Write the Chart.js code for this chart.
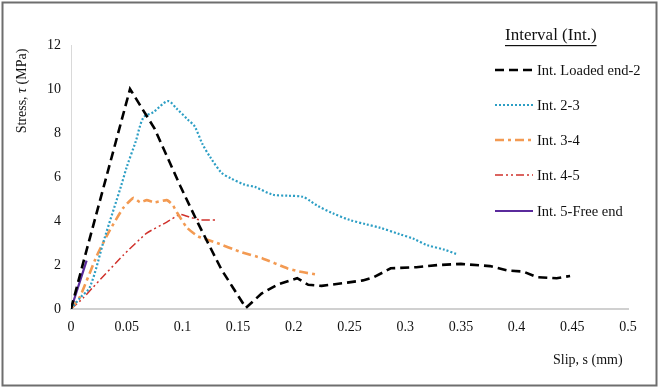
<!DOCTYPE html>
<html>
<head>
<meta charset="utf-8">
<script src="https://cdn.jsdelivr.net/npm/chart.js@4/dist/chart.umd.min.js"></script>
<style>
  html, body { margin: 0; padding: 0; background: #fff; }
  #wrap { width: 660px; height: 388px; }
</style>
</head>
<body>
<div id="wrap"><canvas id="c" width="660" height="388"></canvas></div>
<script>
// ---- data: slip (mm) / stress (MPa) ----
const seriesNames = ["Int. Loaded end-2", "Int. 2-3", "Int. 3-4", "Int. 4-5", "Int. 5-Free end"];

const loadedX = [0, 0.012, 0.053, 0.075, 0.098, 0.114, 0.135, 0.145, 0.157, 0.171, 0.185, 0.203, 0.213, 0.225, 0.248, 0.262, 0.272, 0.287, 0.31, 0.33, 0.35, 0.376, 0.392, 0.406, 0.418, 0.436, 0.448];
const loadedY = [0, 2.3, 10.0, 8.2, 5.6, 3.9, 1.8, 1.0, 0.05, 0.7, 1.1, 1.4, 1.1, 1.05, 1.2, 1.3, 1.45, 1.85, 1.9, 2.0, 2.05, 1.95, 1.75, 1.7, 1.45, 1.4, 1.5];

const int23X = [0, 0.008, 0.017, 0.03, 0.045, 0.05, 0.058, 0.065, 0.074, 0.087, 0.095, 0.105, 0.111, 0.118, 0.125, 0.135, 0.143, 0.156, 0.165, 0.181, 0.195, 0.208, 0.215, 0.221, 0.235, 0.25, 0.265, 0.277, 0.295, 0.307, 0.32, 0.335, 0.346];
const int23Y = [0, 0.5, 1.0, 3.2, 5.6, 6.45, 7.6, 8.7, 8.95, 9.45, 9.1, 8.6, 8.3, 7.5, 6.9, 6.2, 5.95, 5.65, 5.55, 5.2, 5.15, 5.1, 4.9, 4.7, 4.35, 4.05, 3.85, 3.7, 3.4, 3.2, 2.9, 2.7, 2.5];

const int34X = [0, 0.008, 0.023, 0.035, 0.047, 0.056, 0.062, 0.068, 0.075, 0.086, 0.091, 0.095, 0.104, 0.114, 0.131, 0.152, 0.172, 0.194, 0.205, 0.222];
const int34Y = [0, 0.55, 2.4, 3.6, 4.6, 5.05, 4.85, 4.95, 4.85, 4.95, 4.75, 4.4, 3.7, 3.3, 3.0, 2.6, 2.3, 1.85, 1.7, 1.55];

const int45X = [0, 0.011, 0.02, 0.047, 0.068, 0.086, 0.098, 0.108, 0.116, 0.13];
const int45Y = [0, 0.5, 1.0, 2.45, 3.45, 3.95, 4.3, 4.15, 4.05, 4.05];

const int5fX = [0, 0.007, 0.014];
const int5fY = [0, 1.1, 2.2];

const xTicks = [0, 0.05, 0.1, 0.15, 0.2, 0.25, 0.3, 0.35, 0.4, 0.45, 0.5];
const yTicks = [0, 2, 4, 6, 8, 10, 12];

// ---- styles ----
const serif = "'Liberation Serif', 'Times New Roman', serif";
const styles = [
  { color: "#000000", width: 2.6, dash: [9, 5], tension: 0 },
  { color: "#2c9ec4", width: 2.2, dash: [2, 2], tension: 0.3 },
  { color: "#f39a52", width: 2.6, dash: [9, 4, 3, 4], tension: 0.15 },
  { color: "#d0322c", width: 1.5, dash: [8, 3, 2, 3, 2, 3], tension: 0.15 },
  { color: "#5a2a9c", width: 2.2, dash: [], tension: 0 }
];

function pts(xs, ys) { return xs.map((x, i) => ({ x: x, y: ys[i] })); }
const allData = [
  pts(loadedX, loadedY), pts(int23X, int23Y), pts(int34X, int34Y),
  pts(int45X, int45Y), pts(int5fX, int5fY)
];

const datasets = allData.map((d, i) => ({
  label: seriesNames[i],
  data: d,
  showLine: true,
  borderColor: styles[i].color,
  borderWidth: styles[i].width,
  borderDash: styles[i].dash,
  tension: styles[i].tension,
  pointRadius: 0,
  fill: false
}));

// frame, axis titles and legend drawn on the canvas
const decor = {
  id: "decor",
  afterDraw(chart) {
    const ctx = chart.ctx;
    ctx.save();
    // outer frame
    ctx.strokeStyle = "#6e6e6e";
    ctx.lineWidth = 2;
    ctx.strokeRect(2.5, 2.5, 654, 383);

    ctx.fillStyle = "#111";
    // y title (rotated, τ italic)
    ctx.translate(22, 91);
    ctx.rotate(-Math.PI / 2);
    const parts = [["Stress, ", ""], ["τ", "italic "], [" (MPa)", ""]];
    let total = 0;
    parts.forEach(p => { ctx.font = p[1] + "14px " + serif; total += ctx.measureText(p[0]).width; });
    let x = -total / 2;
    ctx.textBaseline = "middle";
    ctx.textAlign = "left";
    parts.forEach(p => { ctx.font = p[1] + "14px " + serif; ctx.fillText(p[0], x, 0); x += ctx.measureText(p[0]).width; });
    ctx.setTransform(1, 0, 0, 1, 0, 0);

    // x title
    ctx.font = "14px " + serif;
    ctx.textAlign = "left";
    ctx.fillText("Slip, s (mm)", 553, 360);

    // legend title underlined
    ctx.font = "17px " + serif;
    const title = "Interval (Int.)";
    const tw = ctx.measureText(title).width;
    ctx.fillText(title, 505, 36);
    ctx.fillRect(505, 45, tw, 1.2);

    // legend items
    const rowY = [70, 105, 140, 175, 211];
    ctx.font = "14.5px " + serif;
    styles.forEach((s, i) => {
      ctx.beginPath();
      ctx.strokeStyle = s.color;
      ctx.lineWidth = s.width;
      ctx.setLineDash(s.dash);
      ctx.moveTo(495, rowY[i]);
      ctx.lineTo(533, rowY[i]);
      ctx.stroke();
      ctx.setLineDash([]);
      ctx.fillStyle = "#111";
      ctx.fillText(seriesNames[i], 537, rowY[i] + 1);
    });
    ctx.restore();
  }
};

new Chart(document.getElementById("c"), {
  type: "scatter",
  data: { datasets: datasets },
  options: {
    responsive: false,
    animation: false,
    events: [],
    layout: { padding: { left: 0, top: 45, right: 32, bottom: 0 } },
    plugins: { legend: { display: false }, tooltip: { enabled: false } },
    scales: {
      x: {
        type: "linear", min: 0, max: 0.5,
        afterBuildTicks: s => { s.ticks = xTicks.map(v => ({ value: v })); },
        afterFit: s => { s.height = 79; },
        grid: { display: false, drawTicks: false },
        border: { display: true, color: "#d0d0d0", width: 2 },
        ticks: { color: "#111", padding: 10, maxRotation: 0, font: { family: serif, size: 14 },
                 callback: v => String(v) }
      },
      y: {
        type: "linear", min: 0, max: 12,
        afterBuildTicks: s => { s.ticks = yTicks.map(v => ({ value: v })); },
        afterFit: s => { s.width = 71; },
        grid: { display: false, drawTicks: false },
        border: { display: true, color: "#d9d9d9", width: 1 },
        ticks: { color: "#111", padding: 10, font: { family: serif, size: 14 } }
      }
    }
  },
  plugins: [decor]
});
</script>
</body>
</html>
